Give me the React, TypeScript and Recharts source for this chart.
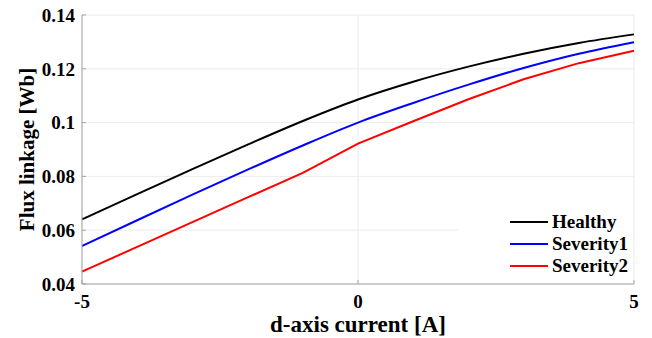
import React from 'react';
import {
  LineChart,
  Line,
  XAxis,
  YAxis,
  CartesianGrid,
  Legend,
  Label,
} from 'recharts';

const current = [-5, -4, -3, -2, -1, 0, 1, 2, 3, 4, 5];
const healthy = [0.064, 0.0734, 0.0827, 0.0918, 0.1006, 0.1086, 0.1152, 0.1208, 0.1256, 0.1296, 0.1328];
const severity1 = [0.0541, 0.0637, 0.0732, 0.0825, 0.0915, 0.1, 0.1073, 0.1141, 0.1203, 0.1256, 0.1299];
const severity2 = [0.0446, 0.0538, 0.063, 0.0722, 0.0813, 0.0922, 0.1005, 0.1087, 0.1161, 0.1221, 0.1267];

const xTicks = [-5, 0, 5];
const yTicks = [0.04, 0.06, 0.08, 0.1, 0.12, 0.14];

const series = [
  { key: 'healthy', name: 'Healthy', color: '#000000', type: 'monotone' as const },
  { key: 'severity1', name: 'Severity1', color: '#0000ff', type: 'monotone' as const },
  { key: 'severity2', name: 'Severity2', color: '#ff0000', type: 'linear' as const },
];

const data = current.map((x, i) => ({
  x,
  healthy: healthy[i],
  severity1: severity1[i],
  severity2: severity2[i],
}));

const FONT = '"Liberation Serif", "Times New Roman", serif';
const BORDER = '#a3a3a3';

function LegendBox() {
  return (
    <div
      style={{
        background: '#fff',
        width: 175,
        height: 78,
        fontFamily: FONT,
        fontWeight: 'bold',
        fontSize: 19,
        color: '#000',
        boxSizing: 'border-box',
        paddingTop: 6,
      }}
    >
      {series.map((s) => (
        <div key={s.key} style={{ display: 'flex', alignItems: 'center', height: 22 }}>
          <div style={{ width: 52 }} />
          <div style={{ width: 38, height: 2, background: s.color }} />
          <span style={{ marginLeft: 4, lineHeight: '22px' }}>{s.name}</span>
        </div>
      ))}
    </div>
  );
}

export default function App() {
  const tickStyle = { fill: '#000', fontSize: 19, fontWeight: 'bold' as const, fontFamily: FONT };
  return (
    <div style={{ position: 'absolute', left: 0, top: 0, background: '#fff' }}>
      <LineChart
        width={652}
        height={338}
        data={data}
        margin={{ top: 15, right: 18, left: 0, bottom: 0 }}
      >
        <CartesianGrid stroke="#ececec" strokeWidth={1} />
        <XAxis
          dataKey="x"
          type="number"
          domain={[-5, 5]}
          ticks={xTicks}
          height={54}
          axisLine={{ stroke: BORDER }}
          tickLine={{ stroke: BORDER }}
          tickSize={-4}
          tickMargin={15}
          tick={tickStyle}
        >
          <Label
            value="d-axis current [A]"
            position="insideBottom"
            offset={6}
            style={{ fill: '#000', fontSize: 23, fontWeight: 'bold', fontFamily: FONT }}
          />
        </XAxis>
        <XAxis
          xAxisId="top"
          dataKey="x"
          type="number"
          orientation="top"
          domain={[-5, 5]}
          ticks={xTicks}
          height={0}
          axisLine={{ stroke: BORDER }}
          tickLine={{ stroke: BORDER }}
          tickSize={-4}
          tickFormatter={() => ''}
        />
        <YAxis
          type="number"
          domain={[0.04, 0.14]}
          ticks={yTicks}
          width={82}
          axisLine={{ stroke: BORDER }}
          tickLine={{ stroke: BORDER }}
          tickSize={-4}
          tickMargin={11}
          tick={tickStyle}
          tickFormatter={(v) => String(v)}
        >
          <Label
            value="Flux linkage [Wb]"
            angle={-90}
            position="insideLeft"
            offset={27}
            style={{ fill: '#000', fontSize: 21, fontWeight: 'bold', fontFamily: FONT, textAnchor: 'middle' }}
          />
        </YAxis>
        <YAxis
          yAxisId="right"
          orientation="right"
          type="number"
          domain={[0.04, 0.14]}
          ticks={yTicks}
          width={0}
          axisLine={{ stroke: BORDER }}
          tickLine={{ stroke: BORDER }}
          tickSize={-4}
          tickFormatter={() => ''}
        />
        {series.map((s) => (
          <Line
            key={s.key}
            type={s.type}
            dataKey={s.key}
            name={s.name}
            stroke={s.color}
            strokeWidth={2}
            dot={false}
            isAnimationActive={false}
          />
        ))}
        <Legend
          layout="vertical"
          align="center"
          verticalAlign="middle"
          content={() => <LegendBox />}
          wrapperStyle={{ left: 458, top: 205, width: 175, height: 78 }}
        />
      </LineChart>
    </div>
  );
}
